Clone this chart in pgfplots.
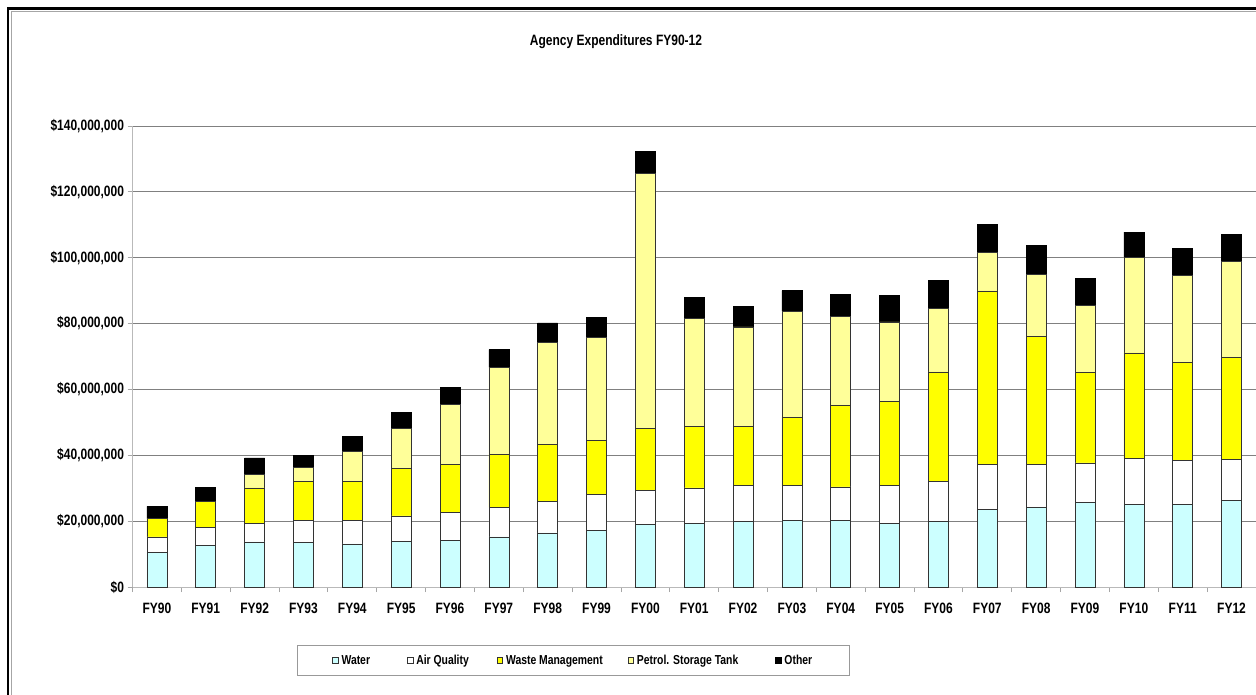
\documentclass[border=0pt]{standalone}
\usepackage{fontspec}
\setmainfont{Liberation Sans}[FakeStretch=0.8]
\usepackage{pgfplots}
\pgfplotsset{compat=1.18}
\usepackage{pgfplotstable}
\definecolor{water}{HTML}{CCFFFF}
\definecolor{waste}{HTML}{FFFF00}
\definecolor{pst}{HTML}{FFFF99}
\definecolor{gridc}{HTML}{808080}

\pgfplotstableread{
x W A WM P O
0 10.6 4.6 5.6 0 3.7
1 12.6 5.4 7.9 0 4.3
2 13.7 5.7 10.7 4.1 5.0
3 13.5 6.6 12.0 4.1 3.8
4 13.1 7.2 11.8 9.1 4.4
5 13.8 7.8 14.3 12.2 4.9
6 14.1 8.5 14.7 18.1 5.1
7 15.2 9.0 16.0 26.5 5.4
8 16.4 9.5 17.4 31.0 5.9
9 17.1 11.0 16.3 31.5 5.9
10 19.1 10.3 18.7 77.6 6.5
11 19.4 10.7 18.7 32.8 6.4
12 19.8 11.0 18.0 30.2 6.1
13 20.1 10.7 20.7 32.3 6.2
14 20.1 10.3 24.8 27.0 6.6
15 19.4 11.4 25.6 24.1 8.1
16 19.8 12.3 33.2 19.3 8.6
17 23.6 13.6 52.7 11.8 8.5
18 24.2 13.0 38.9 18.8 8.8
19 25.7 12.0 27.5 20.3 8.1
20 25.2 13.8 32.1 29.0 7.7
21 25.2 13.2 29.9 26.3 8.2
22 26.4 12.3 31.1 29.1 8.3
}\data

\begin{document}
\begin{tikzpicture}[x=1pt,y=1pt]
\useasboundingbox (0,0) rectangle (1256,694);
\fill[white] (0,0) rectangle (1256,694);
\draw[line width=2.5pt] (8,-5) -- (8,685.5) -- (1270,685.5);
\draw[gray!70,line width=1pt] (11.5,-5) -- (11.5,682.5) -- (1270,682.5);
\node[font=\fontsize{15}{18}\selectfont\bfseries] at (616,652) {Agency Expenditures FY90-12};
\begin{axis}[
  at={(132.5pt,107pt)}, anchor=south west,
  scale only axis, width=1123.5pt, height=461pt,
  ybar stacked, bar width=20pt,
  xmin=-0.5, xmax=22.5, ymin=0, ymax=140,
  xtick={-0.5,0.5,...,22.5},
  xticklabels={FY90,FY91,FY92,FY93,FY94,FY95,FY96,FY97,FY98,FY99,FY00,FY01,FY02,FY03,FY04,FY05,FY06,FY07,FY08,FY09,FY10,FY11,FY12},
  xticklabel style={xshift=24.4pt, yshift=-7pt, text height=11pt, text depth=0pt, font=\fontsize{15}{18}\selectfont\bfseries},
  ytick={0,20,...,140},
  yticklabels={{\$0},{\$20,000,000},{\$40,000,000},{\$60,000,000},{\$80,000,000},{\$100,000,000},{\$120,000,000},{\$140,000,000}},
  yticklabel style={font=\fontsize{15}{18}\selectfont\bfseries},
  ymajorgrids, major grid style={gridc, line width=0.9pt},
  axis lines*=left,
  axis line style={gray!55, line width=0.9pt},
  tick align=outside, major tick length=5pt,
  tick style={gray!70, line width=0.9pt},
  legend columns=5,
  legend image code/.code={\draw[#1, line width=0.6pt] (0pt,-2.8pt) rectangle (5.6pt,2.8pt);},
  legend style={at={(0.1464,-0.1594)}, anchor=west, draw=gray!80, line width=0.8pt,
    font=\fontsize{13}{15}\selectfont\bfseries,
    inner xsep=35pt, inner ysep=7.5pt,
    /tikz/every odd column/.style={column sep=1pt},
    /tikz/column 2/.style={column sep=35pt},
    /tikz/column 4/.style={column sep=26pt},
    /tikz/column 6/.style={column sep=23pt},
    /tikz/column 8/.style={column sep=35pt}},
]
\addplot[fill=water, draw=black!80, line width=0.7pt] table[x=x,y=W]{\data};
\addlegendentry{Water}
\addplot[fill=white, draw=black!80, line width=0.7pt] table[x=x,y=A]{\data};
\addlegendentry{Air Quality}
\addplot[fill=waste, draw=black!80, line width=0.7pt] table[x=x,y=WM]{\data};
\addlegendentry{Waste Management}
\addplot[fill=pst, draw=black!80, line width=0.7pt] table[x=x,y=P]{\data};
\addlegendentry{Petrol. Storage Tank}
\addplot[fill=black, draw=black, line width=0.7pt] table[x=x,y=O]{\data};
\addlegendentry{Other}
\end{axis}
\end{tikzpicture}
\end{document}
